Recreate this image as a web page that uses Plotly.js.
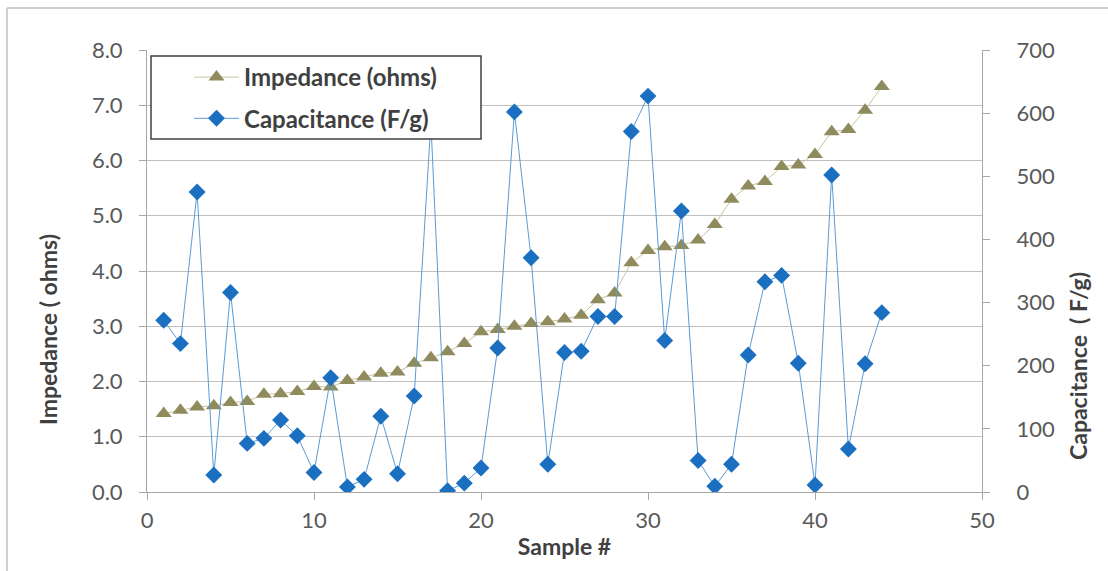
<!DOCTYPE html>
<html>
<head>
<meta charset="utf-8">
<script src="https://cdn.plot.ly/plotly-3.0.1.min.js"></script>
<style>
html,body{margin:0;padding:0;background:#fff;}
#chart{width:1108px;height:571px;}
</style>
</head>
<body>
<div id="chart"></div>
<script>
const sampleNo = [1,2,3,4,5,6,7,8,9,10,11,12,13,14,15,16,17,18,19,20,21,22,23,24,25,26,27,28,29,30,31,32,33,34,35,36,37,38,39,40,41,42,43,44];
const impedance = [1.42,1.48,1.54,1.56,1.62,1.64,1.77,1.78,1.82,1.91,1.90,2.02,2.08,2.15,2.17,2.33,2.43,2.54,2.69,2.90,2.94,3.00,3.05,3.08,3.13,3.20,3.48,3.60,4.15,4.37,4.44,4.46,4.56,4.84,5.30,5.54,5.62,5.89,5.92,6.11,6.52,6.56,6.91,7.34];
const capacitance = [272,235,475,27,316,77,85,114,89,31,181,8,20,120,29,152,585,2,14,38,228,602,371,44,221,223,278,278,571,627,240,445,50,9,44,217,333,343,204,11,502,68,203,284];
const seriesNames = ["Impedance (ohms)", "Capacitance (F/g)"];
const xTitle = "Sample #";
const yTitle = "Impedance ( ohms)";
const y2Title = "Capacitance\u00a0 ( F/g)";

const FONT = "Lato, 'Open Sans', sans-serif";
const tickFont = {family: FONT, size: 22, color: '#595959'};
const titleFont = {family: FONT, size: 23, color: '#404040', weight: 'bold'};

const traces = [
  {
    x: sampleNo, y: impedance, name: seriesNames[0], type: 'scatter', mode: 'lines+markers',
    legendgroup: 'a',
    line: {color: '#c9c4a4', width: 1},
    marker: {symbol: 'triangle-up', size: 14, color: '#8f8b5c'},
    yaxis: 'y'
  },
  {
    x: sampleNo, y: capacitance, name: seriesNames[1], type: 'scatter', mode: 'lines+markers',
    legendgroup: 'b',
    line: {color: '#5b9bd5', width: 1},
    marker: {symbol: 'diamond', size: 13, color: '#1a6fc0'},
    yaxis: 'y2'
  }
];

const W = 835, H = 442, L = 147, T = 50;
function px(x){ return (x - L) / W; }
function py(y){ return (T + H - y) / H; }

const layout = {
  width: 1108, height: 571,
  margin: {l: L, r: 1108 - L - W, t: T, b: 571 - T - H, pad: 0},
  paper_bgcolor: '#fff', plot_bgcolor: '#fff',
  showlegend: true,
  legend: {
    x: px(189), y: py(55), xanchor: 'left', yanchor: 'top',
    bgcolor: 'rgba(0,0,0,0)', borderwidth: 0,
    font: {family: FONT, size: 24, color: '#404040', weight: 'bold'},
    tracegroupgap: 7, itemwidth: 45
  },
  xaxis: {
    range: [0, 50], dtick: 10, tick0: 0,
    showgrid: false, zeroline: false,
    showline: true, linecolor: '#a6a6a6', linewidth: 1,
    ticks: 'outside', ticklen: 7, tickcolor: '#a6a6a6',
    tickfont: tickFont, ticklabelstandoff: 2,
    title: {text: xTitle, font: titleFont, standoff: 6}
  },
  yaxis: {
    range: [0, 8], dtick: 1, tick0: 0, tickformat: '.1f',
    showgrid: true, gridcolor: '#c0c0c0', gridwidth: 1, zeroline: false,
    showline: true, linecolor: '#a6a6a6', linewidth: 1,
    ticks: 'outside', ticklen: 7, tickcolor: '#a6a6a6',
    tickfont: tickFont, ticklabelstandoff: 12
  },
  yaxis2: {
    range: [0, 700], dtick: 100, tick0: 0,
    overlaying: 'y', side: 'right',
    showgrid: false, zeroline: false,
    showline: true, linecolor: '#a6a6a6', linewidth: 1,
    ticks: 'outside', ticklen: 7, tickcolor: '#a6a6a6',
    tickfont: tickFont, ticklabelstandoff: 22
  },
  annotations: [
    {text: yTitle, xref: 'paper', yref: 'paper', x: px(48), y: py(330), showarrow: false,
     textangle: -90, font: titleFont, xanchor: 'center', yanchor: 'middle'},
    {text: y2Title, xref: 'paper', yref: 'paper', x: px(1078), y: py(366), showarrow: false,
     textangle: -90, font: titleFont, xanchor: 'center', yanchor: 'middle'}
  ],
  shapes: [
    {type: 'rect', xref: 'paper', yref: 'paper', x0: px(151), x1: px(481), y0: py(139), y1: py(56),
     fillcolor: '#ffffff', line: {color: '#404040', width: 1.5}, layer: 'above'},
    {type: 'line', xref: 'paper', yref: 'paper', x0: px(7), x1: px(7), y0: py(8), y1: py(571),
     line: {color: '#bfbfbf', width: 1.5}},
    {type: 'line', xref: 'paper', yref: 'paper', x0: px(7), x1: px(1108), y0: py(8), y1: py(8),
     line: {color: '#bfbfbf', width: 1.5}}
  ]
};

Plotly.newPlot('chart', traces, layout, {displayModeBar: false, staticPlot: true});
</script>
</body>
</html>
